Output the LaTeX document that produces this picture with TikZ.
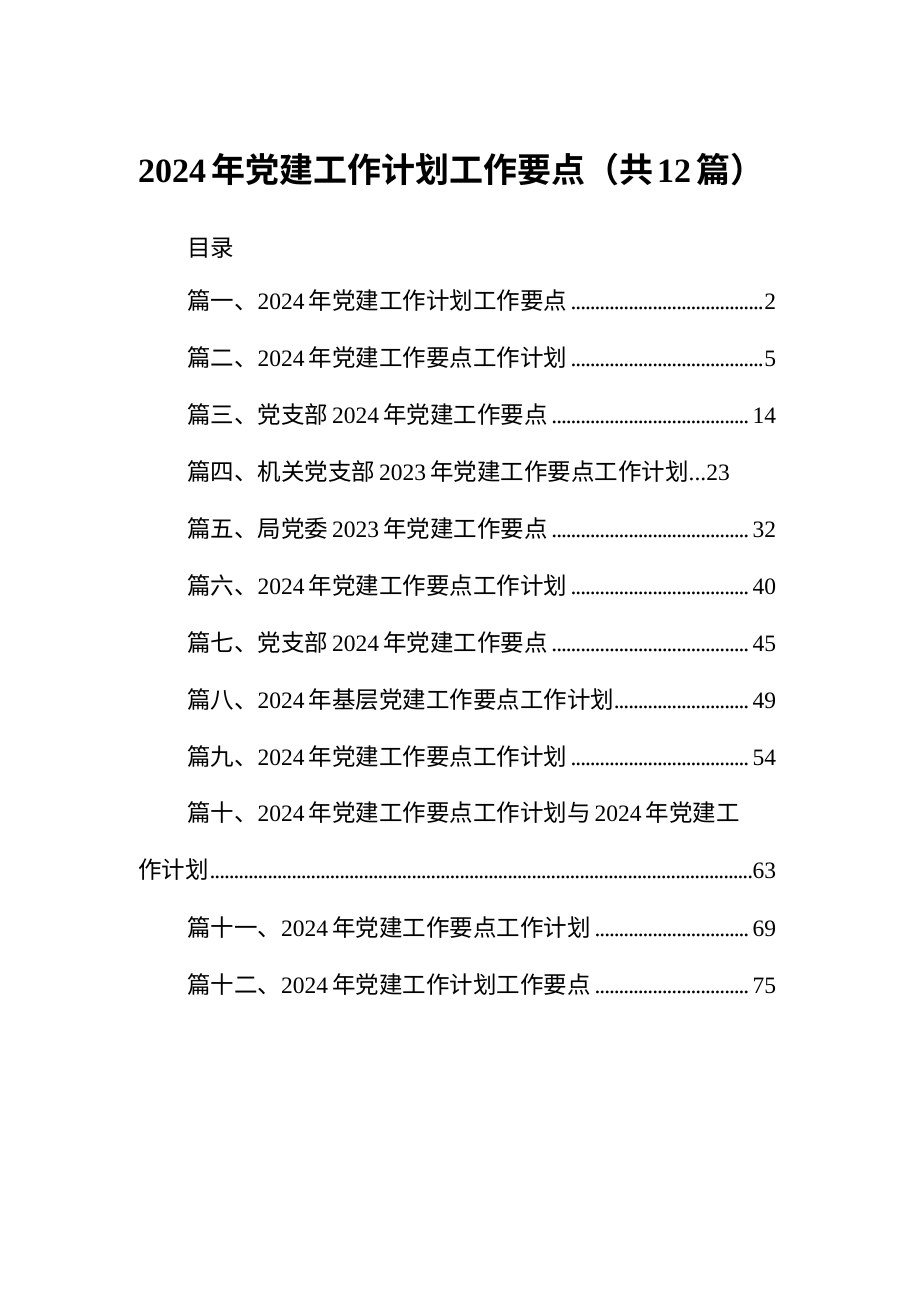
\documentclass[tikz,border=0pt]{standalone}
\usepackage{fontspec}
\setmainfont{Liberation Serif}
\newfontfamily\cj{Noto Sans CJK SC}[BoldFont={* Bold}]
\newcommand{\zh}[1]{{\cj\fontsize{23.5pt}{24pt}\selectfont #1}}
\newcommand{\gp}{\hspace{4pt}}
\newcommand{\ldr}{\leaders\hbox to 4.8pt{\hss.\hss}\hfill}
\tikzset{entry/.style={anchor=west,inner sep=0pt,text width=589pt,font=\fontsize{23.5pt}{24pt}\selectfont},
 plain/.style={anchor=west,inner sep=0pt,font=\fontsize{23.5pt}{24pt}\selectfont}}
\begin{document}
\begin{tikzpicture}[x=1pt,y=-1pt]
\useasboundingbox[fill=white] (0,0) rectangle (920,1301);
\node[anchor=west,inner sep=0pt,font=\bfseries\fontsize{34pt}{36pt}\selectfont] (title) at (138,170) {2024\hspace{5pt}{\cj 年党建工作计划工作要点（共}\hspace{4pt}12\hspace{5pt}{\cj 篇）}};
\node[plain] (ml) at (187,248) {\zh{目录}};
\node[entry] (e1) at (187,301) {\zh{篇一、}2024\gp\zh{年党建工作计划工作要点}\ldr 2};
\node[entry] (e2) at (187,358) {\zh{篇二、}2024\gp\zh{年党建工作要点工作计划}\ldr 5};
\node[entry] (e3) at (187,415) {\zh{篇三、党支部}\gp 2024\gp\zh{年党建工作要点}\ldr 14};
\node[plain] (e4) at (187,472) {\zh{篇四、机关党支部}\gp 2023\gp\zh{年党建工作要点工作计划}...23};
\node[entry] (e5) at (187,529) {\zh{篇五、局党委}\gp 2023\gp\zh{年党建工作要点}\ldr 32};
\node[entry] (e6) at (187,586) {\zh{篇六、}2024\gp\zh{年党建工作要点工作计划}\ldr 40};
\node[entry] (e7) at (187,643) {\zh{篇七、党支部}\gp 2024\gp\zh{年党建工作要点}\ldr 45};
\node[entry] (e8) at (187,700) {\zh{篇八、}2024\gp\zh{年基层党建工作要点工作计划}\ldr 49};
\node[entry] (e9) at (187,757) {\zh{篇九、}2024\gp\zh{年党建工作要点工作计划}\ldr 54};
\node[plain] (e10) at (187,813) {\zh{篇十、}2024\gp\zh{年党建工作要点工作计划与}\gp 2024\gp\zh{年党建工}};
\node[entry,text width=638pt] (e10b) at (138,870) {\zh{作计划}\ldr 63};
\node[entry] (e11) at (187,927) {\zh{篇十一、}2024\gp\zh{年党建工作要点工作计划}\ldr 69};
\node[entry] (e12) at (187,984) {\zh{篇十二、}2024\gp\zh{年党建工作计划工作要点}\ldr 75};
\end{tikzpicture}
\end{document}
